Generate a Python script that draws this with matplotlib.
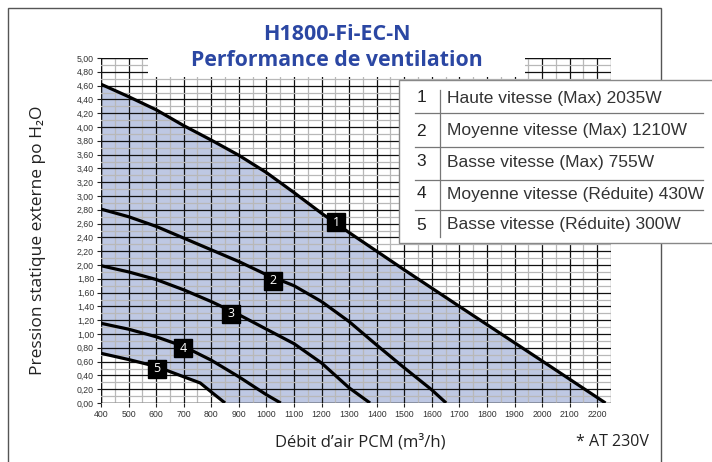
import matplotlib
matplotlib.use("Agg")
import matplotlib.pyplot as plt
import matplotlib.patches as mpatches
from matplotlib.ticker import MultipleLocator, FixedLocator, FuncFormatter

# --- données ---
debit_1 = [400, 500, 600, 700, 800, 900, 1000, 1100, 1200, 1300, 1500, 1700, 2000, 2230]
press_1 = [4.62, 4.44, 4.25, 4.02, 3.81, 3.59, 3.34, 3.05, 2.75, 2.47, 1.93, 1.40, 0.61, 0.00]

debit_2 = [400, 500, 600, 700, 800, 900, 1000, 1100, 1200, 1300, 1400, 1500, 1600, 1652]
press_2 = [2.81, 2.70, 2.56, 2.39, 2.22, 2.05, 1.86, 1.70, 1.47, 1.18, 0.84, 0.51, 0.19, 0.00]

debit_3 = [400, 500, 600, 700, 800, 900, 1000, 1100, 1200, 1300, 1376]
press_3 = [1.99, 1.90, 1.79, 1.64, 1.47, 1.28, 1.07, 0.86, 0.58, 0.22, 0.00]

debit_4 = [400, 500, 600, 700, 800, 900, 1000, 1052]
press_4 = [1.155, 1.07, 0.96, 0.82, 0.62, 0.38, 0.12, 0.00]

debit_5 = [400, 500, 600, 700, 760, 800, 850]
press_5 = [0.72, 0.63, 0.53, 0.38, 0.29, 0.16, 0.00]

etiquette_x = [1253, 1023, 872, 697, 604]
etiquette_y = [2.62, 1.77, 1.29, 0.79, 0.50]

legende = [
    "Haute vitesse (Max) 2035W",
    "Moyenne vitesse (Max) 1210W",
    "Basse vitesse (Max) 755W",
    "Moyenne vitesse (Réduite) 430W",
    "Basse vitesse (Réduite) 300W",
]

x_ticks = list(range(400, 2201, 100))
y_ticks = [i * 0.2 for i in range(26)]

BLEU = "#2b47a3"
REMPLI = "#bec8e3"

W, H = 712, 462
fig = plt.figure(figsize=(W / 100, H / 100), dpi=100)
ax = fig.add_axes([101 / W, (H - 403) / H, 510 / W, 345 / H])

# zone remplie entre la courbe 1 et la courbe 5
poly_x = debit_1 + debit_5[::-1]
poly_y = press_1 + press_5[::-1]
ax.fill(poly_x, poly_y, color=REMPLI, lw=0, zorder=1)

courbes = [(debit_1, press_1), (debit_2, press_2), (debit_3, press_3),
           (debit_4, press_4), (debit_5, press_5)]
for dx, dy in courbes:
    ax.plot(dx, dy, color="black", lw=2.3, solid_capstyle="butt",
            solid_joinstyle="round", zorder=4)

ax.plot(etiquette_x, etiquette_y, "s", color="black", ms=12.5, zorder=5)
for i, (ex, ey) in enumerate(zip(etiquette_x, etiquette_y)):
    ax.text(ex, ey, str(i + 1), color="white", fontsize=9, ha="center",
            va="center", family="Open Sans", zorder=6)

ax.set_xlim(400, 2250)
ax.set_ylim(0, 5)
ax.xaxis.set_major_locator(FixedLocator(x_ticks))
ax.xaxis.set_minor_locator(MultipleLocator(50))
ax.yaxis.set_major_locator(FixedLocator(y_ticks))
ax.yaxis.set_minor_locator(MultipleLocator(0.1))
ax.yaxis.set_major_formatter(FuncFormatter(lambda v, p: f"{v:.2f}".replace(".", ",")))

ax.set_axisbelow(False)
ax.grid(which="major", color="#111111", lw=0.9, zorder=2)
ax.grid(which="minor", color="#b8b8b8", lw=0.9, zorder=2)
for s in ax.spines.values():
    s.set_visible(False)
ax.axvline(400, color="#111111", lw=1.0, zorder=2)
ax.axvline(2250, color="#9a9a9a", lw=0.9, zorder=2)
ax.axhline(5, color="#111111", lw=0.9, zorder=2)
ax.axhline(0, color="#111111", lw=1.0, zorder=2)

ax.tick_params(which="major", length=3, width=0.8, color="#222222",
               labelsize=6.3, labelcolor="#333333", pad=2)
ax.tick_params(which="minor", length=0)
for lab in ax.get_xticklabels() + ax.get_yticklabels():
    lab.set_family("Liberation Sans")

# cache blanc derrière le titre
ax.add_patch(mpatches.Rectangle((570, 4.72), 1938 - 570, 0.4, facecolor="white",
                                edgecolor="none", zorder=3, clip_on=False))

fig.text(38 / W, 1 - 240 / H, "Pression statique externe po H₂O",
         fontsize=12.5, family=["Open Sans", "DejaVu Sans"], color="#222222",
         rotation=90, ha="center", va="center")

fig.text(360 / W, 1 - 442 / H, "Débit d’air PCM (m³/h)", fontsize=12,
         family="Open Sans", color="#222222", ha="center", va="center")
fig.text(612 / W, 1 - 442 / H, "* AT 230V", fontsize=11.5, family="Open Sans",
         color="#222222", ha="center", va="center")

fig.text(337 / W, 1 - 35 / H, "H1800-Fi-EC-N", fontsize=15.5, fontweight="bold",
         family="Open Sans", color=BLEU, ha="center", va="center")
fig.text(337 / W, 1 - 61 / H, "Performance de ventilation", fontsize=15.3,
         fontweight="bold", family="Open Sans", color=BLEU, ha="center", va="center")

# cadre extérieur
fig.add_artist(mpatches.Rectangle((8 / W, -0.05), (661 - 8) / W, 1.05 - 8 / H,
                                  transform=fig.transFigure, fill=False,
                                  edgecolor="#555555", lw=1.0, zorder=3))

# légende
fig.add_artist(mpatches.Rectangle((399 / W, 1 - 243 / H), 330 / W, 163 / H,
                                  transform=fig.transFigure, facecolor="white",
                                  edgecolor="#888888", lw=1.0, zorder=5))
rangs_y = [98, 131, 162, 194, 225]
separ_y = [113, 147, 180, 210]
for i, txt in enumerate(legende):
    fig.text(421 / W, 1 - rangs_y[i] / H, str(i + 1), fontsize=12.5,
             family="Liberation Sans", color="#222222", ha="center",
             va="center", zorder=6)
    fig.text(447 / W, 1 - rangs_y[i] / H, txt, fontsize=12.5,
             family="Liberation Sans", color="#333333", ha="left",
             va="center", zorder=6)
for sy in separ_y:
    fig.add_artist(plt.Line2D([415 / W, 703 / W], [1 - sy / H, 1 - sy / H],
                              transform=fig.transFigure, color="#777777",
                              lw=0.9, zorder=6))
fig.add_artist(plt.Line2D([440 / W, 440 / W], [1 - 90 / H, 1 - 237 / H],
                          transform=fig.transFigure, color="#777777",
                          lw=0.9, zorder=6))

fig.savefig("out.png", dpi=100)
